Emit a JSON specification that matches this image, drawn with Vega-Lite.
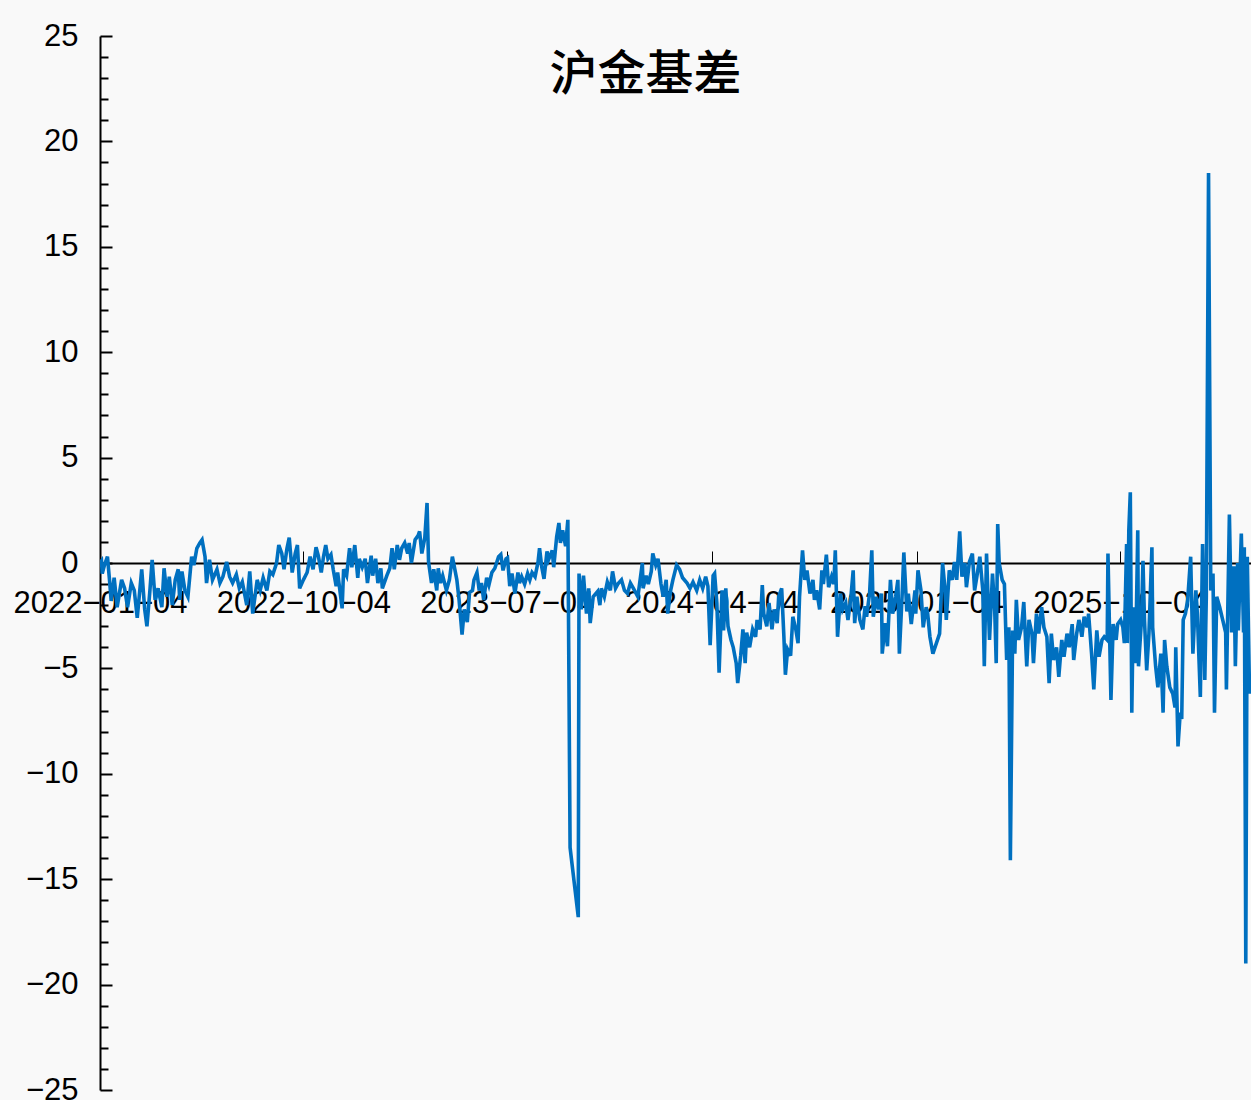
{
  "$schema": "https://vega.github.io/schema/vega-lite/v6.json",
  "description": "沪金基差",
  "width": 1151,
  "height": 1054,
  "autosize": {"type": "none"},
  "padding": {"left": 100, "top": 36, "right": 0, "bottom": 10},
  "background": "#f9f9f9",
  "title": {"text": "沪金基差", "font": "Noto Sans CJK SC", "fontSize": 48, "fontWeight": 500, "color": "#000000", "anchor": "middle", "frame": "group", "dx": -30, "offset": -80},
  "config": {
    "view": {"stroke": null},
    "axis": {"labelFont": "Liberation Sans", "labelFontSize": 31, "labelColor": "#000000", "domainColor": "#000000", "tickColor": "#000000", "grid": false}
  },
  "data": {"values": [
    {"d":"2022-01-04","v":0},{"d":"2022-01-06","v":0.1},{"d":"2022-01-07","v":-0.5},{"d":"2022-01-10","v":-0.1},{"d":"2022-01-14","v":0.3},{"d":"2022-01-17","v":-0.9},{"d":"2022-01-19","v":-1.8},{"d":"2022-01-23","v":-0.7},{"d":"2022-01-27","v":-2.1},
    {"d":"2022-02-02","v":-0.8},{"d":"2022-02-06","v":-1.2},{"d":"2022-02-10","v":-2.1},{"d":"2022-02-15","v":-0.95},{"d":"2022-02-19","v":-1.3},{"d":"2022-02-23","v":-2.6},
    {"d":"2022-03-01","v":-0.3},{"d":"2022-03-05","v":-2.2},{"d":"2022-03-08","v":-3.0},{"d":"2022-03-12","v":-1.3},{"d":"2022-03-15","v":0.15},{"d":"2022-03-19","v":-1.75},{"d":"2022-03-23","v":-1.2},{"d":"2022-03-28","v":-2.1},{"d":"2022-03-31","v":-0.25},
    {"d":"2022-04-04","v":-1.6},{"d":"2022-04-07","v":-0.65},{"d":"2022-04-11","v":-2.0},{"d":"2022-04-15","v":-0.8},{"d":"2022-04-19","v":-0.3},{"d":"2022-04-21","v":-1.75},{"d":"2022-04-24","v":-0.4},{"d":"2022-04-28","v":-1.3},
    {"d":"2022-05-02","v":-1.6},{"d":"2022-05-07","v":0.3},{"d":"2022-05-10","v":-0.1},{"d":"2022-05-14","v":0.7},{"d":"2022-05-18","v":0.95},{"d":"2022-05-21","v":1.1},{"d":"2022-05-25","v":0.3},{"d":"2022-05-27","v":-0.95},{"d":"2022-05-31","v":0.15},
    {"d":"2022-06-04","v":-0.8},{"d":"2022-06-10","v":-0.3},{"d":"2022-06-14","v":-0.95},{"d":"2022-06-18","v":-0.65},{"d":"2022-06-23","v":0.05},{"d":"2022-06-27","v":-0.65},
    {"d":"2022-07-01","v":-0.95},{"d":"2022-07-06","v":-0.55},{"d":"2022-07-10","v":-1.2},{"d":"2022-07-14","v":-0.9},{"d":"2022-07-20","v":-2.0},{"d":"2022-07-24","v":-0.4},{"d":"2022-07-28","v":-2.4},
    {"d":"2022-08-03","v":-0.8},{"d":"2022-08-07","v":-1.3},{"d":"2022-08-11","v":-0.7},{"d":"2022-08-16","v":-1.3},{"d":"2022-08-20","v":-0.4},{"d":"2022-08-24","v":-0.55},{"d":"2022-08-29","v":0},
    {"d":"2022-09-01","v":0.85},{"d":"2022-09-05","v":0.45},{"d":"2022-09-08","v":-0.3},{"d":"2022-09-12","v":0.7},{"d":"2022-09-15","v":1.2},{"d":"2022-09-19","v":-0.45},{"d":"2022-09-23","v":0.45},{"d":"2022-09-26","v":0.85},{"d":"2022-09-29","v":-1.2},
    {"d":"2022-10-04","v":-0.8},{"d":"2022-10-09","v":-0.45},{"d":"2022-10-13","v":0.3},{"d":"2022-10-17","v":-0.3},{"d":"2022-10-21","v":0.75},{"d":"2022-10-24","v":0.35},{"d":"2022-10-28","v":-0.45},{"d":"2022-10-31","v":0.3},
    {"d":"2022-11-03","v":0.85},{"d":"2022-11-06","v":0.2},{"d":"2022-11-10","v":0.4},{"d":"2022-11-13","v":-0.3},{"d":"2022-11-17","v":-1.1},{"d":"2022-11-19","v":-0.45},{"d":"2022-11-25","v":-2.15},{"d":"2022-11-27","v":-0.3},
    {"d":"2022-12-01","v":-0.6},{"d":"2022-12-05","v":0.7},{"d":"2022-12-08","v":-0.2},{"d":"2022-12-12","v":0.85},{"d":"2022-12-16","v":-0.7},{"d":"2022-12-18","v":0.2},{"d":"2022-12-22","v":-0.2},{"d":"2022-12-26","v":0.2},{"d":"2022-12-29","v":-0.95},
    {"d":"2023-01-03","v":0.35},{"d":"2023-01-05","v":-0.6},{"d":"2023-01-09","v":0.2},{"d":"2023-01-12","v":-0.95},{"d":"2023-01-16","v":-0.25},{"d":"2023-01-18","v":-1.2},{"d":"2023-01-24","v":-0.6},{"d":"2023-01-28","v":-0.25},{"d":"2023-01-31","v":0.7},
    {"d":"2023-02-03","v":-0.3},{"d":"2023-02-07","v":0.85},{"d":"2023-02-10","v":0.15},{"d":"2023-02-13","v":0.7},{"d":"2023-02-17","v":0.95},{"d":"2023-02-21","v":0.45},{"d":"2023-02-23","v":0.95},{"d":"2023-02-26","v":0},
    {"d":"2023-03-03","v":1.1},{"d":"2023-03-07","v":1.3},{"d":"2023-03-09","v":1.5},{"d":"2023-03-12","v":0.45},{"d":"2023-03-16","v":1.2},{"d":"2023-03-19","v":2.85},{"d":"2023-03-21","v":0.05},{"d":"2023-03-25","v":-0.95},{"d":"2023-03-28","v":-0.3},
    {"d":"2023-04-01","v":-1.3},{"d":"2023-04-03","v":-0.25},{"d":"2023-04-06","v":-0.95},{"d":"2023-04-09","v":-0.6},{"d":"2023-04-14","v":-1.3},{"d":"2023-04-18","v":-0.8},{"d":"2023-04-22","v":0.3},{"d":"2023-04-28","v":-0.8},
    {"d":"2023-05-01","v":-1.75},{"d":"2023-05-05","v":-3.4},{"d":"2023-05-08","v":-2.2},{"d":"2023-05-12","v":-2.8},{"d":"2023-05-15","v":-1.4},{"d":"2023-05-19","v":-1.3},{"d":"2023-05-21","v":-0.8},{"d":"2023-05-25","v":-0.45},{"d":"2023-05-28","v":-1.3},{"d":"2023-05-31","v":-0.95},
    {"d":"2023-06-03","v":-1.75},{"d":"2023-06-07","v":-0.7},{"d":"2023-06-10","v":-1.05},{"d":"2023-06-14","v":-0.45},{"d":"2023-06-18","v":-0.25},{"d":"2023-06-23","v":0.3},{"d":"2023-06-26","v":0.4},{"d":"2023-06-29","v":-0.35},
    {"d":"2023-07-03","v":0.2},{"d":"2023-07-05","v":0.25},{"d":"2023-07-08","v":-1.1},{"d":"2023-07-11","v":-0.5},{"d":"2023-07-15","v":-1.45},{"d":"2023-07-19","v":-0.45},{"d":"2023-07-21","v":-0.95},{"d":"2023-07-24","v":-0.65},{"d":"2023-07-28","v":-1.0},
    {"d":"2023-08-01","v":-0.5},{"d":"2023-08-04","v":-0.8},{"d":"2023-08-07","v":-0.45},{"d":"2023-08-11","v":-0.65},{"d":"2023-08-15","v":0.05},{"d":"2023-08-17","v":0.7},{"d":"2023-08-20","v":-0.2},{"d":"2023-08-23","v":-0.75},{"d":"2023-08-27","v":0.55},{"d":"2023-08-29","v":0.15},
    {"d":"2023-09-03","v":0.6},{"d":"2023-09-05","v":-0.2},{"d":"2023-09-09","v":1.25},{"d":"2023-09-12","v":1.9},{"d":"2023-09-14","v":0.95},{"d":"2023-09-17","v":1.55},{"d":"2023-09-21","v":0.8},{"d":"2023-09-24","v":2.05},{"d":"2023-09-27","v":-13.5},
    {"d":"2023-10-08","v":-16.8},{"d":"2023-10-09","v":-0.5},{"d":"2023-10-12","v":-2.2},{"d":"2023-10-15","v":-0.6},{"d":"2023-10-19","v":-2.4},{"d":"2023-10-22","v":-1.2},{"d":"2023-10-24","v":-2.85},{"d":"2023-10-28","v":-1.6},
    {"d":"2023-11-03","v":-1.35},{"d":"2023-11-06","v":-2.0},{"d":"2023-11-08","v":-1.2},{"d":"2023-11-12","v":-1.6},{"d":"2023-11-16","v":-0.9},{"d":"2023-11-20","v":-1.3},{"d":"2023-11-23","v":-0.4},{"d":"2023-11-27","v":-1.2},{"d":"2023-11-30","v":-1.0},
    {"d":"2023-12-05","v":-0.8},{"d":"2023-12-09","v":-1.3},{"d":"2023-12-13","v":-1.45},{"d":"2023-12-17","v":-0.95},{"d":"2023-12-21","v":-1.2},{"d":"2023-12-27","v":-1.6},
    {"d":"2024-01-02","v":0},{"d":"2024-01-03","v":-1.2},{"d":"2024-01-07","v":-0.6},{"d":"2024-01-10","v":-1.0},{"d":"2024-01-14","v":-0.4},{"d":"2024-01-16","v":0.45},{"d":"2024-01-20","v":-0.1},{"d":"2024-01-23","v":0.2},{"d":"2024-01-27","v":-1.0},{"d":"2024-01-30","v":-1.6},
    {"d":"2024-02-03","v":-0.8},{"d":"2024-02-05","v":-2.4},{"d":"2024-02-09","v":-1.3},{"d":"2024-02-12","v":-0.8},{"d":"2024-02-17","v":-0.1},{"d":"2024-02-21","v":-0.3},{"d":"2024-02-25","v":-0.7},
    {"d":"2024-03-02","v":-0.95},{"d":"2024-03-06","v":-1.2},{"d":"2024-03-10","v":-0.9},{"d":"2024-03-15","v":-1.3},{"d":"2024-03-19","v":-0.8},{"d":"2024-03-23","v":-1.2},{"d":"2024-03-27","v":-0.65},{"d":"2024-03-30","v":-1.1},
    {"d":"2024-04-02","v":-3.9},{"d":"2024-04-06","v":-0.6},{"d":"2024-04-08","v":-0.5},{"d":"2024-04-11","v":-1.9},{"d":"2024-04-14","v":-5.2},{"d":"2024-04-18","v":-1.3},{"d":"2024-04-20","v":-3.2},{"d":"2024-04-23","v":-1.2},{"d":"2024-04-26","v":-3.0},{"d":"2024-04-30","v":-3.65},
    {"d":"2024-05-03","v":-4.0},{"d":"2024-05-07","v":-4.75},{"d":"2024-05-09","v":-5.7},{"d":"2024-05-13","v":-4.4},{"d":"2024-05-16","v":-3.15},{"d":"2024-05-19","v":-4.75},{"d":"2024-05-21","v":-3.3},{"d":"2024-05-25","v":-4.0},{"d":"2024-05-29","v":-3.15},
    {"d":"2024-06-02","v":-3.5},{"d":"2024-06-04","v":-2.7},{"d":"2024-06-08","v":-3.15},{"d":"2024-06-11","v":-1.05},{"d":"2024-06-13","v":-2.4},{"d":"2024-06-17","v":-3.0},{"d":"2024-06-20","v":-1.9},{"d":"2024-06-24","v":-3.15},{"d":"2024-06-27","v":-2.2},
    {"d":"2024-07-01","v":-2.85},{"d":"2024-07-03","v":-1.6},{"d":"2024-07-07","v":-1.2},{"d":"2024-07-10","v":-3.5},{"d":"2024-07-12","v":-5.3},{"d":"2024-07-15","v":-4.1},{"d":"2024-07-19","v":-4.4},{"d":"2024-07-22","v":-2.55},{"d":"2024-07-26","v":-3.15},{"d":"2024-07-29","v":-3.8},{"d":"2024-07-31","v":-1.6},
    {"d":"2024-08-04","v":0.6},{"d":"2024-08-07","v":-0.8},{"d":"2024-08-10","v":-0.35},{"d":"2024-08-14","v":-1.45},{"d":"2024-08-18","v":-0.8},{"d":"2024-08-20","v":-1.75},{"d":"2024-08-23","v":-1.3},{"d":"2024-08-27","v":-2.2},{"d":"2024-08-30","v":-0.35},
    {"d":"2024-09-01","v":-1.0},{"d":"2024-09-05","v":0.4},{"d":"2024-09-08","v":-1.15},{"d":"2024-09-12","v":-0.65},{"d":"2024-09-15","v":-1.0},{"d":"2024-09-17","v":0.6},{"d":"2024-09-20","v":-3.5},{"d":"2024-09-24","v":-1.45},{"d":"2024-09-27","v":-2.2},
    {"d":"2024-10-01","v":-1.9},{"d":"2024-10-04","v":-2.7},{"d":"2024-10-08","v":-1.6},{"d":"2024-10-11","v":-0.35},{"d":"2024-10-13","v":-2.85},{"d":"2024-10-16","v":-1.6},{"d":"2024-10-20","v":-2.7},{"d":"2024-10-24","v":-3.15},{"d":"2024-10-27","v":-2.05},{"d":"2024-10-29","v":-2.55},
    {"d":"2024-11-02","v":-1.45},{"d":"2024-11-05","v":0.6},{"d":"2024-11-07","v":-2.55},{"d":"2024-11-11","v":-1.6},{"d":"2024-11-14","v":-2.2},{"d":"2024-11-18","v":-1.45},{"d":"2024-11-19","v":-4.3},{"d":"2024-11-23","v":-2.85},{"d":"2024-11-26","v":-3.95},{"d":"2024-11-30","v":-0.8},
    {"d":"2024-12-03","v":-2.4},{"d":"2024-12-07","v":-1.6},{"d":"2024-12-10","v":-0.8},{"d":"2024-12-12","v":-4.3},{"d":"2024-12-16","v":-1.3},{"d":"2024-12-18","v":0.5},{"d":"2024-12-22","v":-2.3},{"d":"2024-12-24","v":-1.45},{"d":"2024-12-28","v":-2.9},
    {"d":"2025-01-02","v":-1.3},{"d":"2025-01-03","v":-2.4},{"d":"2025-01-06","v":-0.35},{"d":"2025-01-10","v":-1.3},{"d":"2025-01-13","v":-3.05},{"d":"2025-01-17","v":-2.1},{"d":"2025-01-19","v":-2.4},{"d":"2025-01-22","v":-3.5},{"d":"2025-01-26","v":-4.3},
    {"d":"2025-02-04","v":-3.35},{"d":"2025-02-08","v":0},{"d":"2025-02-11","v":-1.15},{"d":"2025-02-13","v":-2.7},{"d":"2025-02-17","v":-0.35},{"d":"2025-02-21","v":-0.8},{"d":"2025-02-24","v":0.05},{"d":"2025-02-27","v":-0.8},
    {"d":"2025-03-03","v":1.5},{"d":"2025-03-06","v":-0.65},{"d":"2025-03-10","v":0},{"d":"2025-03-12","v":-1.15},{"d":"2025-03-16","v":0.05},{"d":"2025-03-20","v":0.45},{"d":"2025-03-23","v":-1.3},{"d":"2025-03-26","v":-0.65},{"d":"2025-03-30","v":0.3},
    {"d":"2025-04-03","v":-1.3},{"d":"2025-04-05","v":-4.9},{"d":"2025-04-08","v":0.45},{"d":"2025-04-12","v":-3.65},{"d":"2025-04-16","v":-0.5},{"d":"2025-04-19","v":-2.25},{"d":"2025-04-21","v":-4.75},{"d":"2025-04-23","v":1.85},{"d":"2025-04-25","v":0},{"d":"2025-04-29","v":-0.8},
    {"d":"2025-05-02","v":-1.0},{"d":"2025-05-05","v":-4.6},{"d":"2025-05-08","v":-3.05},{"d":"2025-05-10","v":-14.1},{"d":"2025-05-13","v":-3.2},{"d":"2025-05-16","v":-4.3},{"d":"2025-05-18","v":-1.75},{"d":"2025-05-21","v":-3.65},{"d":"2025-05-25","v":-3.05},{"d":"2025-05-28","v":-1.85},
    {"d":"2025-06-01","v":-4.9},{"d":"2025-06-04","v":-2.7},{"d":"2025-06-08","v":-3.35},{"d":"2025-06-10","v":-4.75},{"d":"2025-06-14","v":-2.4},{"d":"2025-06-17","v":-3.35},{"d":"2025-06-21","v":-2.1},{"d":"2025-06-24","v":-3.05},{"d":"2025-06-28","v":-3.5},
    {"d":"2025-07-01","v":-5.7},{"d":"2025-07-04","v":-3.35},{"d":"2025-07-07","v":-4.6},{"d":"2025-07-11","v":-4.0},{"d":"2025-07-14","v":-5.4},{"d":"2025-07-18","v":-3.65},{"d":"2025-07-21","v":-4.45},{"d":"2025-07-25","v":-3.35},{"d":"2025-07-28","v":-4.0},
    {"d":"2025-08-01","v":-2.9},{"d":"2025-08-03","v":-4.6},{"d":"2025-08-07","v":-3.35},{"d":"2025-08-10","v":-2.7},{"d":"2025-08-14","v":-3.5},{"d":"2025-08-17","v":-2.55},{"d":"2025-08-21","v":-3.05},{"d":"2025-08-23","v":-2.4},{"d":"2025-08-27","v":-4.3},{"d":"2025-08-30","v":-6.0},
    {"d":"2025-09-03","v":-3.2},{"d":"2025-09-06","v":-4.45},{"d":"2025-09-10","v":-3.65},{"d":"2025-09-13","v":-3.5},{"d":"2025-09-17","v":-3.65},{"d":"2025-09-18","v":0.45},{"d":"2025-09-22","v":-6.5},{"d":"2025-09-25","v":-2.9},{"d":"2025-09-29","v":-3.65},
    {"d":"2025-10-01","v":-2.9},{"d":"2025-10-05","v":-2.7},{"d":"2025-10-08","v":-3.05},{"d":"2025-10-10","v":-3.8},{"d":"2025-10-13","v":0.9},{"d":"2025-10-14","v":-3.8},{"d":"2025-10-16","v":1.55},{"d":"2025-10-18","v":3.35},{"d":"2025-10-20","v":-7.1},{"d":"2025-10-22","v":-2.1},{"d":"2025-10-25","v":-4.75},{"d":"2025-10-28","v":1.55},{"d":"2025-10-29","v":-4.9},
    {"d":"2025-11-02","v":-2.7},{"d":"2025-11-04","v":0.1},{"d":"2025-11-06","v":-2.7},{"d":"2025-11-09","v":-5.1},{"d":"2025-11-12","v":-3.35},{"d":"2025-11-16","v":0.75},{"d":"2025-11-17","v":-3.05},{"d":"2025-11-21","v":-4.9},{"d":"2025-11-24","v":-5.9},{"d":"2025-11-28","v":-4.3},
    {"d":"2025-12-01","v":-7.1},{"d":"2025-12-03","v":-3.65},{"d":"2025-12-06","v":-4.9},{"d":"2025-12-10","v":-5.9},{"d":"2025-12-14","v":-6.2},{"d":"2025-12-17","v":-6.85},{"d":"2025-12-18","v":-4.0},{"d":"2025-12-21","v":-8.7},{"d":"2025-12-24","v":-7.1},{"d":"2025-12-26","v":-7.4},{"d":"2025-12-28","v":-2.7},{"d":"2025-12-31","v":-2.4},
    {"d":"2026-01-03","v":-1.75},{"d":"2026-01-07","v":0.3},{"d":"2026-01-10","v":-4.3},{"d":"2026-01-14","v":-1.3},{"d":"2026-01-16","v":-2.4},{"d":"2026-01-20","v":-6.35},{"d":"2026-01-23","v":0.9},{"d":"2026-01-26","v":-5.55},{"d":"2026-01-28","v":-1.6},{"d":"2026-01-31","v":18.5},
    {"d":"2026-02-03","v":-1.3},{"d":"2026-02-06","v":-0.5},{"d":"2026-02-08","v":-7.1},{"d":"2026-02-11","v":-1.6},{"d":"2026-02-15","v":-2.1},{"d":"2026-02-19","v":-2.7},{"d":"2026-02-23","v":-3.3},{"d":"2026-02-24","v":-6.0},{"d":"2026-02-28","v":2.3},
    {"d":"2026-03-03","v":-3.3},{"d":"2026-03-06","v":-0.15},{"d":"2026-03-08","v":-4.9},{"d":"2026-03-11","v":0},{"d":"2026-03-12","v":-3.2},{"d":"2026-03-16","v":1.4},{"d":"2026-03-19","v":-3.3},{"d":"2026-03-20","v":0.75},{"d":"2026-03-22","v":-19.0},{"d":"2026-03-24","v":0.3},{"d":"2026-03-27","v":-6.2}
  ]},
  "resolve": {"axis": {"x": "independent", "y": "independent"}},
  "layer": [
    {
      "mark": {"type": "line", "color": "#0070C0", "strokeWidth": 3.6, "clip": true},
      "encoding": {
        "x": {
          "field": "d", "type": "temporal",
          "scale": {"type": "utc", "domain": [{"year": 2022, "month": 1, "date": 4, "utc": true}, {"year": 2026, "month": 3, "date": 29, "utc": true}]},
          "axis": {
            "orient": "bottom", "offset": -527, "title": null,
            "values": [{"year": 2022, "month": 1, "date": 4, "utc": true}, {"year": 2022, "month": 10, "date": 4, "utc": true}, {"year": 2023, "month": 7, "date": 4, "utc": true}, {"year": 2024, "month": 4, "date": 4, "utc": true}, {"year": 2025, "month": 1, "date": 4, "utc": true}, {"year": 2025, "month": 10, "date": 4, "utc": true}],
            "format": "%Y−%m−%d", "ticks": false, "tickSize": 0, "labelPadding": 25, "labelAngle": 0,
            "labelFlush": false, "labelOverlap": false, "domainWidth": 2
          }
        },
        "y": {
          "field": "v", "type": "quantitative",
          "scale": {"domain": [-25, 25], "nice": false, "zero": false},
          "axis": {
            "orient": "left", "title": null, "values": [-25, -20, -15, -10, -5, 0, 5, 10, 15, 20, 25],
            "ticks": false, "tickSize": 0, "labelPadding": 22, "labelFlush": false, "labelOverlap": false, "domainWidth": 2
          }
        }
      }
    },
    {
      "mark": {"type": "point", "opacity": 0},
      "encoding": {
        "x": {
          "field": "d", "type": "temporal",
          "axis": {
            "orient": "bottom", "offset": -527, "title": null, "labels": false, "domain": false,
            "values": [{"year": 2022, "month": 1, "date": 4, "utc": true}, {"year": 2022, "month": 10, "date": 4, "utc": true}, {"year": 2023, "month": 7, "date": 4, "utc": true}, {"year": 2024, "month": 4, "date": 4, "utc": true}, {"year": 2025, "month": 1, "date": 4, "utc": true}, {"year": 2025, "month": 10, "date": 4, "utc": true}],
            "tickSize": -12, "tickWidth": 1
          }
        },
        "y": {
          "field": "v", "type": "quantitative",
          "axis": {
            "orient": "left", "title": null, "labels": false, "domain": false,
            "values": [-25, -20, -15, -10, -5, 0, 5, 10, 15, 20, 25],
            "tickSize": -12, "tickWidth": 2
          }
        }
      }
    },
    {
      "mark": {"type": "point", "opacity": 0},
      "encoding": {
        "x": {"field": "d", "type": "temporal", "axis": null},
        "y": {
          "field": "v", "type": "quantitative",
          "axis": {
            "orient": "left", "title": null, "labels": false, "domain": false,
            "values": [-24, -23, -22, -21, -19, -18, -17, -16, -14, -13, -12, -11, -9, -8, -7, -6, -4, -3, -2, -1, 1, 2, 3, 4, 6, 7, 8, 9, 11, 12, 13, 14, 16, 17, 18, 19, 21, 22, 23, 24],
            "tickSize": -8, "tickWidth": 2
          }
        }
      }
    }
  ]
}
